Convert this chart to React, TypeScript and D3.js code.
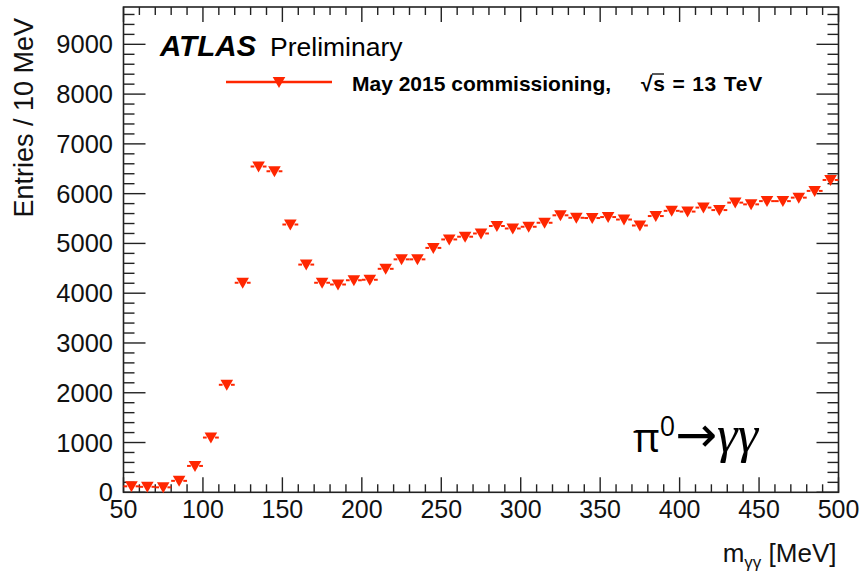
import React, { useEffect, useRef } from "react";
import * as d3 from "d3";

// Diphoton invariant mass, 10 MeV bins (bin centres in MeV)
const binCenters: number[] = [
  55, 65, 75, 85, 95, 105, 115, 125, 135, 145, 155, 165, 175, 185, 195,
  205, 215, 225, 235, 245, 255, 265, 275, 285, 295, 305, 315, 325, 335, 345,
  355, 365, 375, 385, 395, 405, 415, 425, 435, 445, 455, 465, 475, 485, 495,
];
const entries: number[] = [
  120, 110, 100, 230, 530, 1100, 2160, 4210, 6545, 6450, 5380, 4575, 4210, 4175, 4260,
  4270, 4490, 4680, 4680, 4910, 5080, 5135, 5200, 5350, 5300, 5335, 5415, 5565, 5515, 5510,
  5530, 5480, 5360, 5550, 5655, 5640, 5720, 5670, 5820, 5785, 5850, 5850, 5920, 6055, 6275,
];
const binWidth = 10;
const xTicks: number[] = [50, 100, 150, 200, 250, 300, 350, 400, 450, 500];
const yTicks: number[] = [0, 1000, 2000, 3000, 4000, 5000, 6000, 7000, 8000, 9000];
const xDomain: [number, number] = [50, 500];
const yDomain: [number, number] = [0, 9750];

const W = 860;
const H = 579;
const frame = { left: 123.5, right: 838.5, top: 7, bottom: 492.3 };
const RED = "#ff2600";
const AXIS = "#222";
const FONT = "'Liberation Sans', Arial, Helvetica, sans-serif";

export default function App() {
  const ref = useRef<SVGSVGElement>(null);

  useEffect(() => {
    const svg = d3.select(ref.current);
    svg.selectAll("*").remove();

    const x = d3.scaleLinear().domain(xDomain).range([frame.left, frame.right]);
    const y = d3.scaleLinear().domain(yDomain).range([frame.bottom, frame.top]);

    const g = svg.append("g");

    // frame
    g.append("rect")
      .attr("x", frame.left)
      .attr("y", frame.top)
      .attr("width", frame.right - frame.left)
      .attr("height", frame.bottom - frame.top)
      .attr("fill", "none")
      .attr("stroke", AXIS)
      .attr("stroke-width", 1.6);

    // x ticks (bottom and top), major every 50, minor every 10
    const xMinor = d3.range(50, 501, 10);
    const xMajLen = 15;
    const xMinLen = 8;
    xMinor.forEach((v) => {
      const major = v % 50 === 0;
      const len = major ? xMajLen : xMinLen;
      g.append("line")
        .attr("x1", x(v)).attr("x2", x(v))
        .attr("y1", frame.bottom).attr("y2", frame.bottom - len)
        .attr("stroke", AXIS).attr("stroke-width", 1.4);
      g.append("line")
        .attr("x1", x(v)).attr("x2", x(v))
        .attr("y1", frame.top).attr("y2", frame.top + len)
        .attr("stroke", AXIS).attr("stroke-width", 1.4);
    });

    // y ticks (left and right), major every 1000, minor every 200
    const yMinor = d3.range(0, 9751, 200);
    const yMajLen = 22;
    const yMinLen = 11;
    yMinor.forEach((v) => {
      const major = v % 1000 === 0;
      const len = major ? yMajLen : yMinLen;
      g.append("line")
        .attr("x1", frame.left).attr("x2", frame.left + len)
        .attr("y1", y(v)).attr("y2", y(v))
        .attr("stroke", AXIS).attr("stroke-width", 1.4);
      g.append("line")
        .attr("x1", frame.right).attr("x2", frame.right - len)
        .attr("y1", y(v)).attr("y2", y(v))
        .attr("stroke", AXIS).attr("stroke-width", 1.4);
    });

    // tick labels
    g.selectAll("text.xl")
      .data(xTicks)
      .join("text")
      .attr("class", "xl")
      .attr("x", (d) => x(d))
      .attr("y", frame.bottom + 26)
      .attr("text-anchor", "middle")
      .attr("font-family", FONT)
      .attr("font-size", 25)
      .attr("fill", "#111")
      .text((d) => String(d));

    g.selectAll("text.yl")
      .data(yTicks)
      .join("text")
      .attr("class", "yl")
      .attr("x", frame.left - 10.5)
      .attr("y", (d) => y(d) + 9)
      .attr("text-anchor", "end")
      .attr("font-family", FONT)
      .attr("font-size", 25.5)
      .attr("fill", "#111")
      .text((d) => String(d));

    // axis titles
    const xt = g.append("text")
      .attr("x", frame.right - 2)
      .attr("y", 562)
      .attr("text-anchor", "end")
      .attr("font-family", FONT)
      .attr("font-size", 26)
      .attr("fill", "#111");
    xt.append("tspan").text("m");
    xt.append("tspan").attr("dy", 6).attr("font-size", 17).text("γγ");
    xt.append("tspan").attr("dy", -6).text(" [MeV]");

    g.append("text")
      .attr("transform", `translate(33,18) rotate(-90)`)
      .attr("text-anchor", "end")
      .attr("font-family", FONT)
      .attr("font-size", 27)
      .attr("fill", "#111")
      .text("Entries / 10 MeV");

    // data: horizontal bin-width error bars with a gap around the marker, then markers
    const half = x(binWidth / 2) - x(0);
    const tri = (cx: number, cy: number) => {
      const w = 6.3;
      return `M${cx - w},${cy - 5}L${cx + w},${cy - 5}L${cx},${cy + 6}Z`;
    };
    const pts = binCenters.map((c, i) => ({ c, v: entries[i] }));
    const dg = g.append("g");
    pts.forEach((p) => {
      const cx = x(p.c);
      const cy = y(p.v);
      dg.append("line")
        .attr("x1", cx - half).attr("x2", cx - 4.2)
        .attr("y1", cy).attr("y2", cy)
        .attr("stroke", RED).attr("stroke-width", 2);
      dg.append("line")
        .attr("x1", cx + 4.2).attr("x2", cx + half)
        .attr("y1", cy).attr("y2", cy)
        .attr("stroke", RED).attr("stroke-width", 2);
      dg.append("path").attr("d", tri(cx, cy)).attr("fill", RED);
    });

    // ATLAS label
    const at = g.append("text")
      .attr("x", 160)
      .attr("y", 56)
      .attr("font-family", FONT)
      .attr("font-size", 29.5)
      .attr("fill", "#000");
    at.append("tspan").attr("font-weight", "bold").attr("font-style", "italic").text("ATLAS");
    at.append("tspan").attr("x", 270).attr("font-size", 26.5).text("Preliminary");

    // legend entry
    const ly = 82;
    g.append("line")
      .attr("x1", 226).attr("x2", 332)
      .attr("y1", ly).attr("y2", ly)
      .attr("stroke", RED).attr("stroke-width", 2.5);
    g.append("path").attr("d", tri(279, ly)).attr("fill", RED);
    g.append("text")
      .attr("x", 352)
      .attr("y", 91)
      .attr("font-family", FONT)
      .attr("font-size", 21)
      .attr("font-weight", "bold")
      .attr("fill", "#000")
      .text("May 2015 commissioning,");
    g.append("text")
      .attr("x", 641)
      .attr("y", 91)
      .attr("font-family", FONT)
      .attr("font-size", 21)
      .attr("font-weight", "bold")
      .attr("letter-spacing", 0.8)
      .attr("fill", "#000")
      .text("√s = 13 TeV");
    g.append("line")
      .attr("x1", 652).attr("x2", 664)
      .attr("y1", 74).attr("y2", 74)
      .attr("stroke", "#000").attr("stroke-width", 1.3);

    // process label
    const pl = g.append("text")
      .attr("x", 633)
      .attr("y", 452)
      .attr("font-family", "'Open Sans', 'Noto Sans', sans-serif")
      .attr("font-size", 41)
      .attr("fill", "#000");
    pl.append("tspan").text("π");
    pl.append("tspan").attr("dy", -16).attr("font-size", 27).text("0");
    pl.append("tspan")
      .attr("dy", 16)
      .attr("font-family", "'DejaVu Sans', sans-serif")
      .attr("font-size", 50)
      .text("→");
    pl.append("tspan")
      .attr("font-family", "'Liberation Serif', serif")
      .attr("font-style", "italic")
      .attr("font-size", 52)
      .text("γγ");
  }, []);

  return (
    <svg
      ref={ref}
      width={W}
      height={H}
      style={{ position: "absolute", left: 0, top: 0, background: "#fff" }}
    />
  );
}
